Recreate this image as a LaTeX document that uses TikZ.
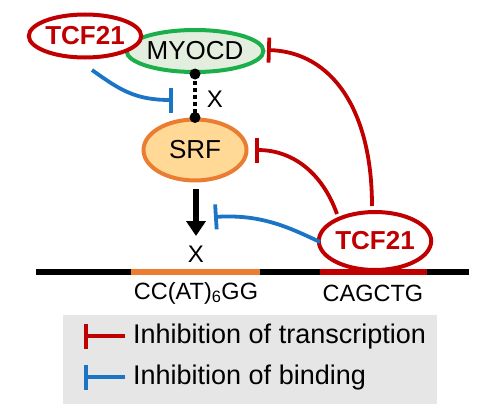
\documentclass[tikz,border=0pt]{standalone}
\usepackage{fontspec}
\setmainfont{Liberation Sans}
\usetikzlibrary{positioning,arrows.meta,shapes.geometric}
\definecolor{tfred}{HTML}{C00000}
\definecolor{inhblue}{HTML}{1B75C4}
\definecolor{myogreen}{HTML}{1BAF4B}
\definecolor{myofill}{HTML}{E3EEDF}
\definecolor{srforange}{HTML}{EA7D32}
\definecolor{srffill}{HTML}{FFD995}
\definecolor{legfill}{HTML}{E6E6E6}

\begin{document}
\begin{tikzpicture}[x=1pt,y=-1pt,
    prot/.style={ellipse, draw, line width=4pt, inner sep=0pt, font=\fontsize{26}{30}\selectfont},
    tcf/.style={prot, draw=tfred, fill=white, text=tfred, font=\fontsize{26}{30}\selectfont\bfseries},
    inhred/.style={draw=tfred, line width=3.8pt, -{Bar[width=25pt]}},
    inhblue/.style={draw=inhblue, line width=3.8pt, -{Bar[width=25pt]}},
    dna/.style={line width=6pt},
    lbl/.style={font=\fontsize{23.5}{28}\selectfont},
    legtext/.style={font=\fontsize{27}{32}\selectfont, anchor=west, inner sep=0pt}]
    \useasboundingbox (0,0) rectangle (487,415);

    % Proteinas
    \node[prot, draw=myogreen, fill=myofill, minimum width=124pt, minimum height=42pt] (myocd) at (195,51) {MYOCD};
    \node[tcf, minimum width=96pt, minimum height=43pt] (tcfA) at (85,36) {TCF21};
    \node[prot, draw=srforange, fill=srffill, minimum width=103pt, minimum height=61pt] (srf) at (195,150) {SRF};

    % Ligacao MYOCD-SRF
    \fill (myocd.south) circle (5.5pt) coordinate (dotA);
    \fill (srf.north) circle (5.5pt) coordinate (dotB);
    \draw[line width=3.5pt, dash pattern=on 3.5pt off 3.5pt] (dotA) -- (dotB);
    \node[lbl, font=\fontsize{24}{28}\selectfont] (xA) at (215,99) {X};

    % DNA
    \coordinate (d0) at (36,272);
    \coordinate (d1) at (131,272);
    \coordinate (d2) at (260,272);
    \coordinate (d3) at (320,272);
    \coordinate (d4) at (427,272);
    \coordinate (d5) at (469,272);
    \draw[dna] (d0) -- (d1);
    \draw[dna, srforange] (d1) -- (d2);
    \draw[dna] (d2) -- (d3);
    \draw[dna, tfred] (d3) -- (d4);
    \draw[dna] (d4) -- (d5);
    \node[lbl] (cage) at (196,293) {CC(AT)\textsubscript{6}GG};
    \node[lbl] (cagctg) at (373,293) {CAGCTG};

    % TCF21 no DNA
    \node[tcf, minimum width=104pt, minimum height=58pt] (tcfB) at (375,241) {TCF21};

    % Transcricao
    \coordinate (arrA) at (196,189);
    \node[lbl, font=\fontsize{24}{28}\selectfont] (xB) at (196,254) {X};
    \draw[line width=6pt, -{Triangle[width=19pt,length=15pt]}] (arrA) -- (196,236);

    % Inibicao
    \coordinate (tA) at (92,70);
    \coordinate (barA) at (173,100);
    \draw[inhblue] (tA) .. controls (120,90) and (135,100) .. (barA);
    \coordinate (tB) at (320,242);
    \coordinate (barB) at (214,217);
    \draw[inhblue] (tB) .. controls (290,228) and (262,214) .. (barB);
    \coordinate (tC) at (337,214);
    \coordinate (barC) at (255,150);
    \draw[inhred] (tC) .. controls (322,172) and (292,150) .. (barC);
    \coordinate (tD) at (372,206);
    \coordinate (barD) at (267,50);
    \draw[inhred] (tD) .. controls (372,110) and (332,52) .. (barD);

    % Legenda
    \fill[legfill] (63,315) rectangle (437,404);
    \coordinate (legA) at (125,336);
    \coordinate (legB) at (125,377);
    \draw[inhred] (legA) -- (84,336);
    \draw[inhblue] (legB) -- (84,377);
    \node[legtext] (legtA) at (133,337) {Inhibition of transcription};
    \node[legtext] (legtB) at (133,378) {Inhibition of binding};

\end{tikzpicture}
\end{document}
